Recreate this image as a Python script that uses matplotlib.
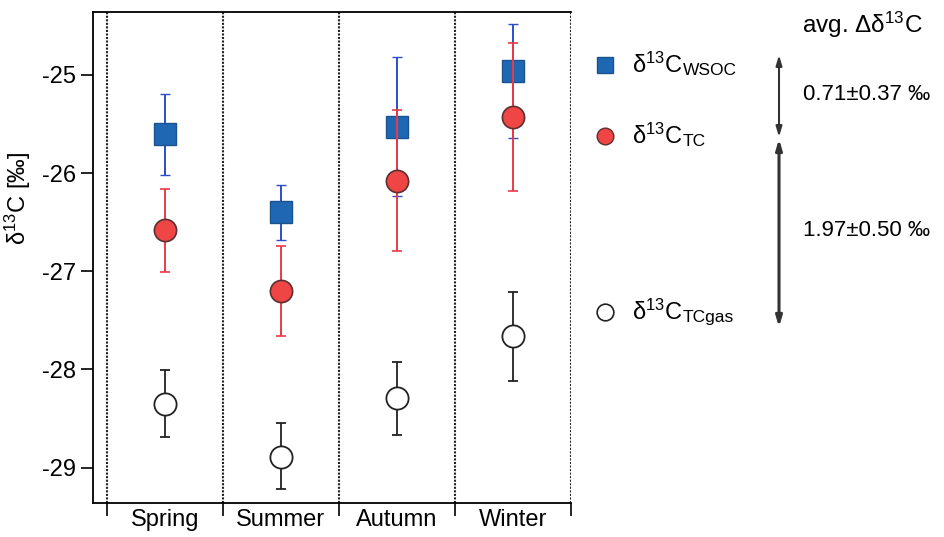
import numpy as np
import matplotlib
matplotlib.use("Agg")
import matplotlib.pyplot as plt

plt.rcParams['font.family'] = ['Liberation Sans', 'DejaVu Sans']
plt.rcParams['mathtext.fontset'] = 'custom'
plt.rcParams['mathtext.rm'] = 'Liberation Sans'
plt.rcParams['mathtext.it'] = 'Liberation Sans:italic'
plt.rcParams['mathtext.bf'] = 'Liberation Sans:bold'
plt.rcParams['axes.unicode_minus'] = False

seasons = ["Spring", "Summer", "Autumn", "Winter"]

# δ13C values [‰]
wsoc = [-25.60, -26.40, -25.53, -24.96]
wsoc_lo = [0.42, 0.28, 0.70, 0.68]
wsoc_hi = [0.41, 0.28, 0.71, 0.48]

tc = [-26.58, -27.20, -26.08, -25.43]
tc_lo = [0.43, 0.46, 0.71, 0.75]
tc_hi = [0.42, 0.46, 0.72, 0.75]

gas = [-28.35, -28.89, -28.29, -27.66]
gas_lo = [0.34, 0.33, 0.38, 0.46]
gas_hi = [0.34, 0.34, 0.37, 0.45]

d13c = r"δ$^{\mathregular{13}}$C"

fig = plt.figure(figsize=(9.45, 5.37), dpi=100)
ax = fig.add_axes([93/945, 34/537, 478/945, 491/537])

x = np.arange(len(seasons)) + 0.5

ax.errorbar(x, wsoc, yerr=[wsoc_lo, wsoc_hi], fmt='s', ms=16, mfc='#2067b3',
            mec='#1a5390', mew=1, ecolor='#2a4fc8', elinewidth=1.4, capsize=3.8,
            capthick=1.4, zorder=3)
ax.errorbar(x, tc, yerr=[tc_lo, tc_hi], fmt='o', ms=16, mfc='#f04545',
            mec='#5a3030', mew=1.2, ecolor='#ec3a48', elinewidth=1.4, capsize=3.8,
            capthick=1.4, zorder=4)
ax.errorbar(x, gas, yerr=[gas_lo, gas_hi], fmt='o', ms=16, mfc='white',
            mec='#222222', mew=1.3, ecolor='#222222', elinewidth=1.3, capsize=3.8,
            capthick=1.3, zorder=5)

ax.set_xlim(-0.12, 4.0)
ax.set_ylim(-29.36, -24.36)

for b in range(len(seasons) + 1):
    ax.axvline(b, color='#222222', ls=(0, (1, 0.7)), lw=1.5, zorder=1)

ax.spines['right'].set_visible(False)
ax.set_xticks(np.arange(len(seasons) + 1))
ax.set_xticklabels([])
ax.set_xticks(x, minor=True)
ax.set_xticklabels(seasons, minor=True, fontsize=17)
ax.tick_params(axis='x', which='minor', length=0, pad=4)
ax.tick_params(axis='x', which='major', length=9, width=1.2, direction='out')
ax.set_yticks([-29, -28, -27, -26, -25])
ax.set_yticklabels([str(v) for v in [-29, -28, -27, -26, -25]], fontsize=17)
ax.tick_params(axis='y', length=9, width=1.2, direction='out', pad=3)
for s in ['left', 'bottom', 'top']:
    ax.spines[s].set_linewidth(1.3)
ax.set_ylabel(d13c + " [‰]", fontsize=17)
ax.yaxis.set_label_coords(-0.125, 0.62)

# overlay in figure pixels for the side legend and arrows
ov = fig.add_axes([0, 0, 1, 1])
ov.set_xlim(0, 945)
ov.set_ylim(537, 0)
ov.axis('off')

ov.plot(605, 65, 's', ms=12, mfc='#2067b3', mec='#1a5390', mew=1)
ov.plot(605, 136, 'o', ms=12, mfc='#f04545', mec='#5a3030', mew=1)
ov.plot(605, 312, 'o', ms=12, mfc='white', mec='#222222', mew=1.2)

entries = [(65, "WSOC"), (136, "TC"), (312, "TCgas")]
for yy, sub in entries:
    t = ov.text(632, yy, d13c, fontsize=17, va='center', ha='left')
    ov.annotate(sub, xy=(1, 0.0), xycoords=t, fontsize=12.5, va='bottom', ha='left')

ov.text(802, 25, "avg. Δ" + d13c, fontsize=17.5, va='center', ha='left')
ov.text(803, 95, "0.71±0.37 ‰", fontsize=16, va='center', ha='left')
ov.text(803, 230, "1.97±0.50 ‰", fontsize=16, va='center', ha='left')

ov.annotate("", xy=(779, 55), xytext=(779, 137),
            arrowprops=dict(arrowstyle='<|-|>,head_length=0.6,head_width=0.18',
                            color='#333333', lw=1.5, shrinkA=0, shrinkB=0))
ov.annotate("", xy=(779, 139), xytext=(779, 327),
            arrowprops=dict(arrowstyle='<|-|>,head_length=0.6,head_width=0.18',
                            color='#333333', lw=2.2, shrinkA=0, shrinkB=0))

fig.savefig("out.png", dpi=100)
